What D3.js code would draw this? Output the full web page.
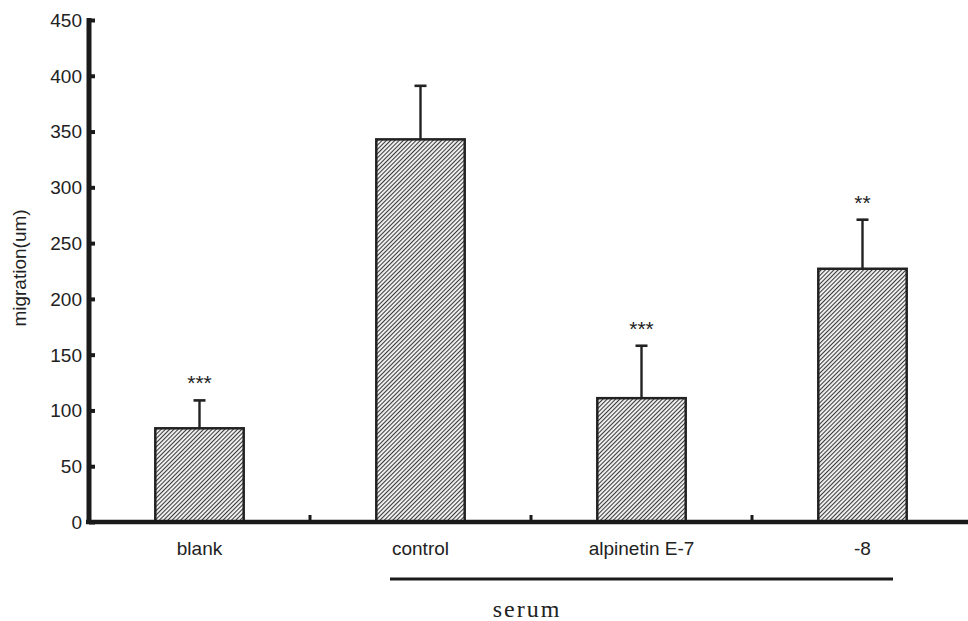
<!DOCTYPE html>
<html><head><meta charset="utf-8">
<script src="https://cdn.jsdelivr.net/npm/d3@7"></script>
<style>body{margin:0;background:#fff}svg{display:block}</style>
</head><body><svg id="c" width="968" height="621"></svg>
<script>
const categories = ["blank", "control", "alpinetin E-7", "-8"];
const means = [84, 343, 111, 227];
const errors = [25, 48, 47, 44];
const stars = ["***", "", "***", "**"];
const yTicks = [0, 50, 100, 150, 200, 250, 300, 350, 400, 450];

const svg = d3.select("#c");
const defs = svg.append("defs");
const pat = defs.append("pattern").attr("id", "hatch").attr("patternUnits", "userSpaceOnUse")
  .attr("width", 3).attr("height", 3).attr("patternTransform", "rotate(45)");
pat.append("rect").attr("width", 3).attr("height", 3).attr("fill", "#f2f2f2");
pat.append("line").attr("x1", 0.5).attr("y1", 0).attr("x2", 0.5).attr("y2", 3)
  .attr("stroke", "#3a3a3a").attr("stroke-width", 1.1);

const x0 = 89, yBase = 522;
const sans = "Liberation Sans, Arial, sans-serif";
const x = d3.scaleBand().domain(categories).range([x0, x0 + 4 * 221]).paddingInner(0.6).paddingOuter(0.3);
const xb = d3.scaleBand().domain(categories).range([x0, x0 + 4 * 221]);
const y = d3.scaleLinear().domain([0, 450]).range([yBase, 20]);

// bars
svg.selectAll("rect.bar").data(categories).enter().append("rect")
  .attr("x", d => x(d)).attr("y", (d, i) => y(means[i]))
  .attr("width", x.bandwidth()).attr("height", (d, i) => yBase - y(means[i]))
  .attr("fill", "url(#hatch)").attr("stroke", "#222").attr("stroke-width", 2.5);

// error bars
categories.forEach((c, i) => {
  const cx = x(c) + x.bandwidth() / 2;
  svg.append("line").attr("x1", cx).attr("x2", cx).attr("y1", y(means[i])).attr("y2", y(means[i] + errors[i]))
    .attr("stroke", "#222").attr("stroke-width", 2.4);
  svg.append("line").attr("x1", cx - 6).attr("x2", cx + 6).attr("y1", y(means[i] + errors[i])).attr("y2", y(means[i] + errors[i]))
    .attr("stroke", "#222").attr("stroke-width", 2.6);
  if (stars[i]) svg.append("text").attr("x", cx).attr("y", y(means[i] + errors[i]) - 10)
    .attr("text-anchor", "middle").attr("font-family", sans)
    .attr("font-size", 21).attr("fill", "#222").text(stars[i]);
});

// y axis (ticks point inward)
const yAxis = d3.axisRight(y).tickValues(yTicks).tickSize(6).tickFormat("");
const gy = svg.append("g").attr("transform", `translate(${x0},0)`).call(yAxis);
gy.select(".domain").attr("stroke", "#1a1a1a").attr("stroke-width", 5).attr("d", `M0,${yBase + 2}V18`);
gy.selectAll(".tick line").attr("stroke", "#1a1a1a").attr("stroke-width", 4);
svg.selectAll("text.ytick").data(yTicks).enter().append("text")
  .attr("x", 82).attr("y", d => y(d)).attr("dy", "0.36em").attr("text-anchor", "end")
  .attr("font-family", sans).attr("font-size", 19).attr("fill", "#222").text(d => d);

// x axis
svg.append("line").attr("x1", x0 - 3).attr("x2", 968).attr("y1", yBase).attr("y2", yBase)
  .attr("stroke", "#1a1a1a").attr("stroke-width", 4.5);
categories.slice(1).forEach(c => {
  const bx = xb(c);
  svg.append("line").attr("x1", bx).attr("x2", bx).attr("y1", yBase).attr("y2", yBase - 7)
    .attr("stroke", "#1a1a1a").attr("stroke-width", 3);
});
svg.selectAll("text.cat").data(categories).enter().append("text")
  .attr("x", d => x(d) + x.bandwidth() / 2).attr("y", 555)
  .attr("text-anchor", "middle").attr("font-family", sans)
  .attr("font-size", 19).attr("fill", "#222").text(d => d);

// serum bracket
svg.append("line").attr("x1", 390).attr("x2", 893).attr("y1", 579).attr("y2", 579)
  .attr("stroke", "#1a1a1a").attr("stroke-width", 2.8);
svg.append("text").attr("x", 527).attr("y", 617)
  .attr("text-anchor", "middle").attr("font-family", "Liberation Serif, Times New Roman, serif")
  .attr("font-size", 24).attr("letter-spacing", 2).attr("fill", "#222").text("serum");

// y label
svg.append("text").attr("transform", "translate(26,268) rotate(-90)")
  .attr("text-anchor", "middle").attr("font-family", sans)
  .attr("font-size", 19).attr("fill", "#222").text("migration(um)");
</script></body></html>
